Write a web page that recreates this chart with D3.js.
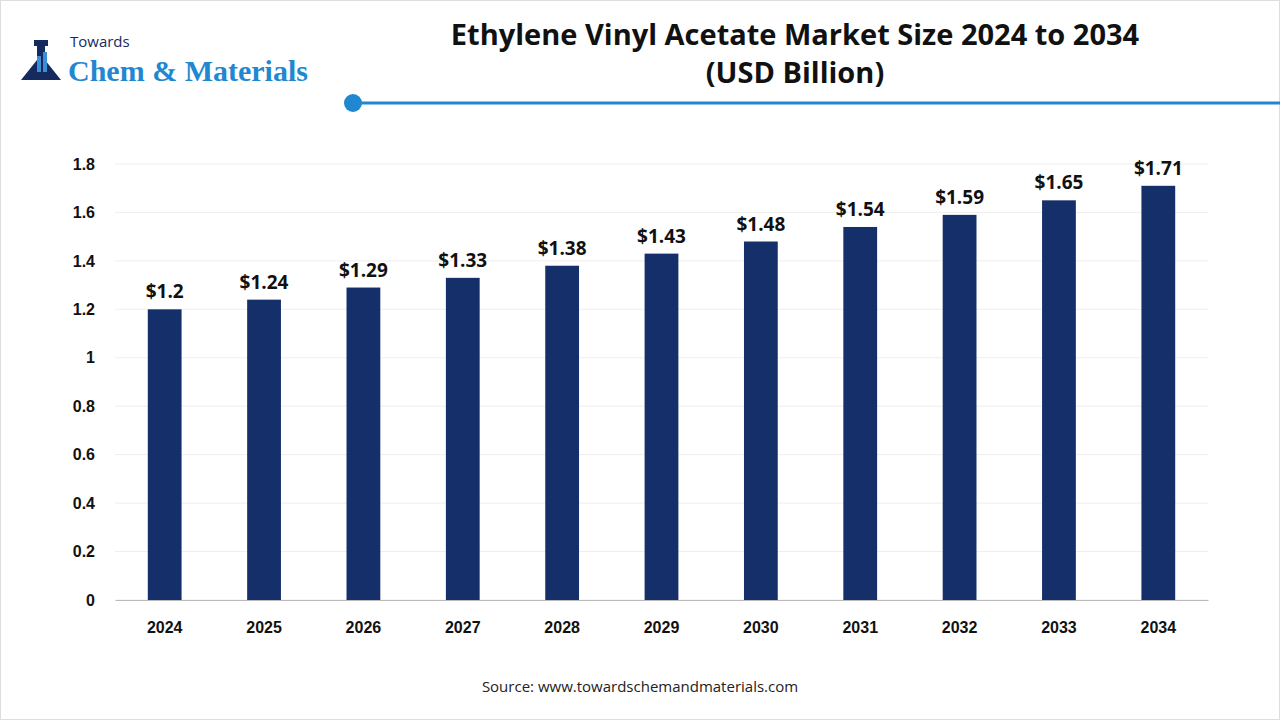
<!DOCTYPE html>
<meta charset="utf-8">
<body>
<script src="https://d3js.org/d3.v7.min.js"></script>
<style>
  html, body { padding: 0; margin: 0; background: #fff; }
  svg { font-family: "Open Sans", "Noto Sans", sans-serif; }
</style>
<script>
  var years = ["2024","2025","2026","2027","2028","2029","2030","2031","2032","2033","2034"]
  var values = [1.2, 1.24, 1.29, 1.33, 1.38, 1.43, 1.48, 1.54, 1.59, 1.65, 1.71]
  var yTicks = [0, 0.2, 0.4, 0.6, 0.8, 1, 1.2, 1.4, 1.6, 1.8]

  var svg = d3.select("body").append("svg").attr("width", 1280).attr("height", 720)
  svg.append("rect").attr("x", 0.5).attr("y", 0.5).attr("width", 1279).attr("height", 719)
    .attr("fill", "#fff").attr("stroke", "#ddd")

  // logo
  var logo = svg.append("g")
  logo.append("path").attr("d", "M34,40 h14 v6 h-3 v14 l16,20 h-40 l16,-20 v-14 h-3z").attr("fill", "#152a5e")
  logo.append("rect").attr("x", 37).attr("y", 56).attr("width", 4).attr("height", 16).attr("fill", "#3a8fd6")
  logo.append("rect").attr("x", 43).attr("y", 52).attr("width", 4).attr("height", 20).attr("fill", "#3a8fd6")
  logo.append("text").attr("x", 70).attr("y", 47).attr("font-size", 15).attr("fill", "#152a5e").text("Towards")
  logo.append("text").attr("x", 68).attr("y", 81).attr("font-size", 30).attr("font-weight", "bold")
    .attr("font-family", "Liberation Serif, serif").attr("fill", "#1f88d0").text("Chem & Materials")

  // title
  svg.append("text").attr("x", 795).attr("y", 45).attr("text-anchor", "middle").attr("font-size", 29)
    .attr("font-weight", "bold").attr("fill", "#111").text("Ethylene Vinyl Acetate Market Size 2024 to 2034")
  svg.append("text").attr("x", 795).attr("y", 83).attr("text-anchor", "middle").attr("font-size", 29)
    .attr("font-weight", "bold").attr("fill", "#111").text("(USD Billion)")
  svg.append("line").attr("x1", 353).attr("x2", 1280).attr("y1", 103).attr("y2", 103)
    .attr("stroke", "#1f88d0").attr("stroke-width", 3)
  svg.append("circle").attr("cx", 353).attr("cy", 103).attr("r", 9).attr("fill", "#1f88d0")

  var x = d3.scaleBand().domain(years).range([115, 1208]).paddingInner(0.66).paddingOuter(0.33)
  var y = d3.scaleLinear().domain([0, 1.8]).range([600, 164])

  svg.append("g").selectAll("line").data(yTicks).join("line")
    .attr("x1", 115).attr("x2", 1208).attr("y1", d => y(d)).attr("y2", d => y(d))
    .attr("stroke", "#eee")

  var ya = svg.append("g").attr("transform", "translate(115,0)")
    .call(d3.axisLeft(y).tickValues(yTicks).tickSize(0).tickPadding(20).tickFormat(d3.format("~g")))
  ya.select(".domain").remove()
  ya.selectAll("text").attr("font-size", 16).attr("font-weight", "bold").attr("fill", "#111")

  var xa = svg.append("g").attr("transform", "translate(0,600)")
    .call(d3.axisBottom(x).tickSize(0).tickPadding(22))
  xa.select(".domain").attr("stroke", "#bbb")
  xa.selectAll("text").attr("font-size", 16).attr("font-weight", "bold").attr("fill", "#111")

  svg.append("g").selectAll("rect").data(values).join("rect")
    .attr("x", (d, i) => x(years[i])).attr("width", x.bandwidth())
    .attr("y", d => y(d)).attr("height", d => 600 - y(d)).attr("fill", "#142f6a")

  svg.append("g").selectAll("text").data(values).join("text")
    .attr("x", (d, i) => x(years[i]) + x.bandwidth() / 2).attr("y", d => y(d) - 11)
    .attr("text-anchor", "middle").attr("font-size", 19).attr("font-weight", "bold").attr("fill", "#111")
    .text(d => "$" + d)

  svg.append("text").attr("x", 640).attr("y", 692).attr("text-anchor", "middle").attr("font-size", 15)
    .attr("fill", "#222").text("Source: www.towardschemandmaterials.com")
</script>
